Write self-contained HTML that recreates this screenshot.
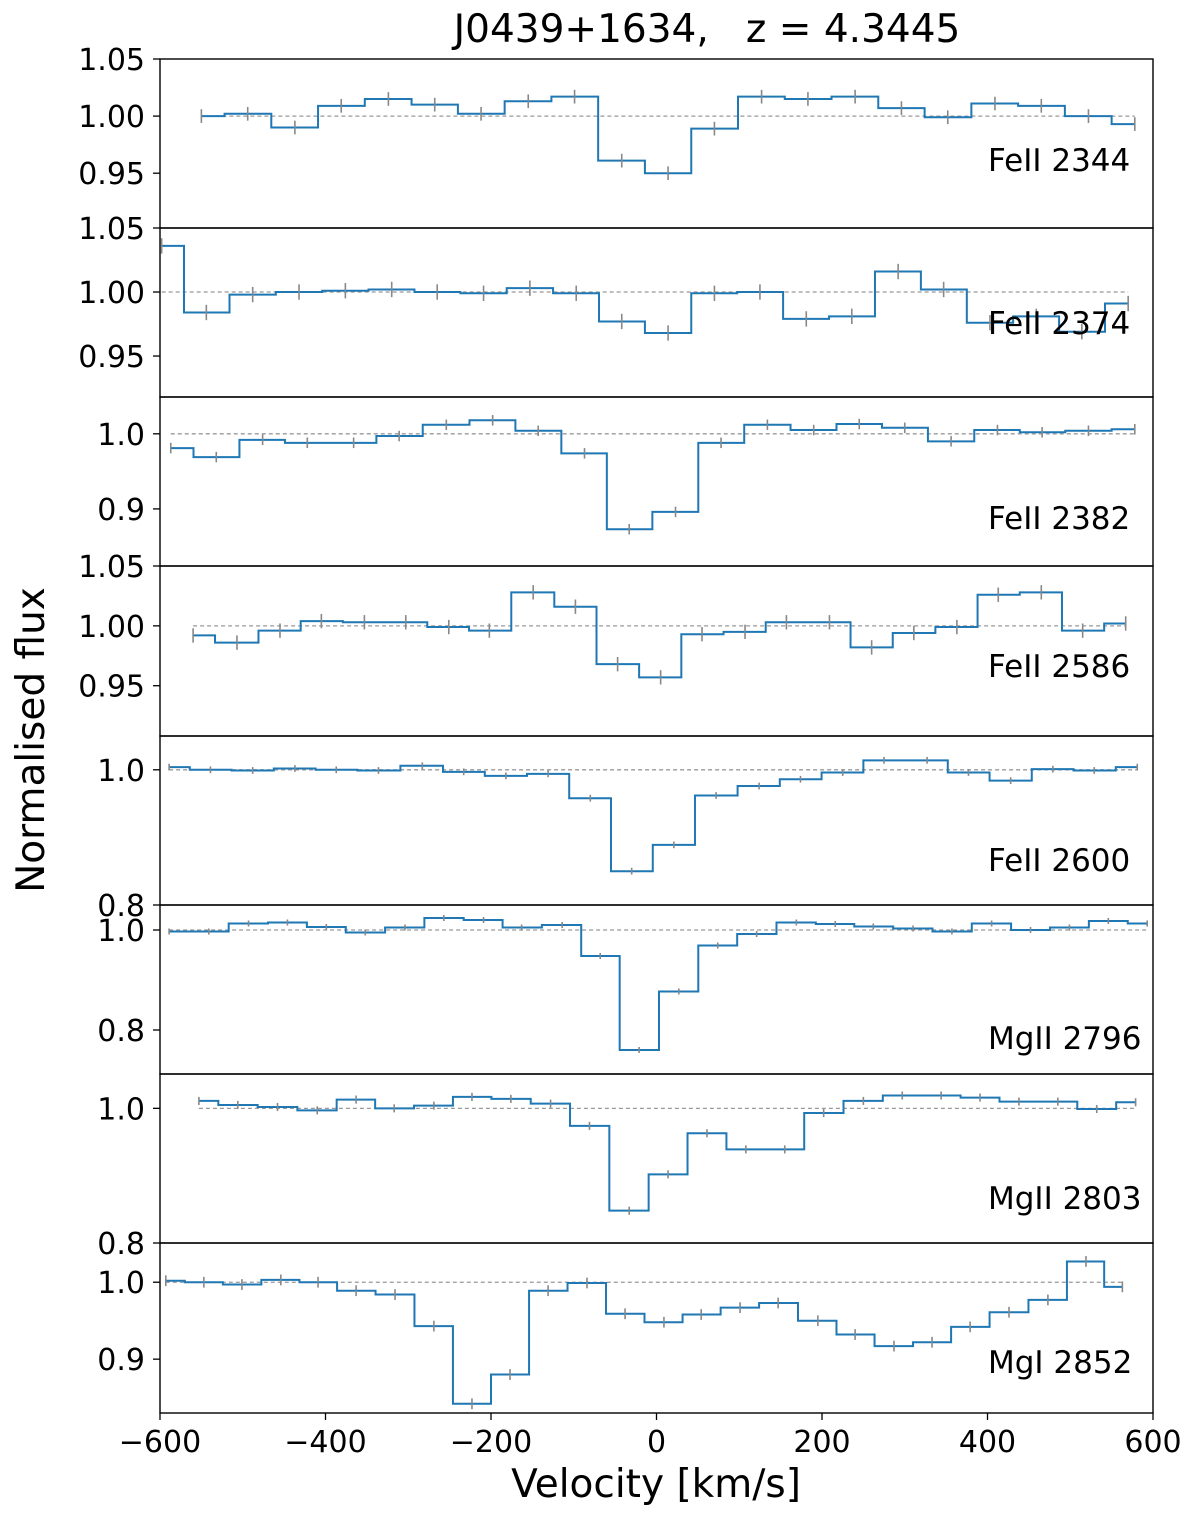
<!DOCTYPE html>
<html><head><meta charset="utf-8"><style>
html,body{margin:0;padding:0;background:#fff;}
svg text{font-family:"DejaVu Sans","Liberation Sans",sans-serif;}
</style></head><body>
<svg id="chart" width="1200" height="1511" viewBox="0 0 1200 1511" xmlns="http://www.w3.org/2000/svg">
<text x="707" y="42" font-size="39" text-anchor="middle" xml:space="preserve">J0439+1634,   z = 4.3445</text>
<text transform="translate(44,740) rotate(-90)" font-size="39" text-anchor="middle">Normalised flux</text>
<text x="656" y="1497" font-size="39" text-anchor="middle">Velocity [km/s]</text>
<g id="panels"></g>
</svg>
<script>
const lineNames = ["FeII 2344","FeII 2374","FeII 2382","FeII 2586","FeII 2600","MgII 2796","MgII 2803","MgI 2852"];
const vel1 = [-550,-494,-437,-381,-324,-268,-212,-155,-99,-42,14,70,127,183,240,296,352,409,465,522,578];
const flux1 = [1.000,1.002,0.990,1.009,1.015,1.010,1.002,1.013,1.017,0.961,0.950,0.989,1.017,1.015,1.017,1.007,0.999,1.011,1.009,1.000,0.993];
const vel2 = [-598,-544,-488,-432,-376,-320,-265,-209,-153,-97,-42,14,70,125,181,236,292,347,403,459,514,570];
const flux2 = [1.036,0.984,0.998,1.000,1.001,1.002,1.000,0.999,1.003,0.999,0.977,0.968,0.999,1.000,0.979,0.981,1.016,1.002,0.976,0.981,0.969,0.991];
const vel3 = [-587,-532,-476,-422,-366,-311,-254,-198,-143,-87,-33,23,78,134,190,245,300,356,412,466,522,578];
const flux3 = [0.981,0.969,0.992,0.988,0.988,0.997,1.012,1.018,1.004,0.974,0.873,0.896,0.988,1.012,1.005,1.013,1.008,0.990,1.005,1.002,1.004,1.006];
const vel4 = [-560,-507,-455,-405,-353,-303,-251,-202,-149,-98,-47,5,55,107,157,209,260,311,363,413,465,515,567];
const flux4 = [0.992,0.986,0.996,1.004,1.003,1.003,0.999,0.996,1.028,1.016,0.968,0.957,0.993,0.995,1.003,1.003,0.982,0.994,0.999,1.026,1.028,0.996,1.002];
const vel5 = [-589,-539,-488,-437,-387,-336,-283,-233,-182,-131,-80,-30,21,72,124,174,225,275,327,377,428,479,529,581];
const flux5 = [1.004,1.000,0.999,1.002,1.000,0.999,1.006,0.997,0.991,0.994,0.958,0.850,0.889,0.962,0.976,0.986,0.996,1.014,1.014,0.996,0.984,1.001,0.999,1.004];
const vel6 = [-589,-541,-493,-446,-399,-352,-304,-257,-209,-163,-114,-68,-21,27,74,121,169,216,262,310,357,405,452,499,546,593];
const flux6 = [0.997,0.997,1.013,1.015,1.006,0.995,1.005,1.024,1.020,1.005,1.010,0.948,0.760,0.877,0.969,0.992,1.015,1.012,1.007,1.003,0.997,1.013,1.000,1.005,1.018,1.013];
const vel7 = [-553,-506,-458,-410,-363,-317,-269,-223,-176,-128,-81,-33,14,61,108,155,202,250,297,344,391,438,485,532,579];
const flux7 = [1.011,1.005,1.002,0.997,1.013,1.000,1.004,1.017,1.014,1.007,0.974,0.848,0.902,0.963,0.939,0.939,0.993,1.011,1.019,1.019,1.016,1.010,1.010,0.999,1.009];
const vel8 = [-593,-547,-501,-454,-409,-363,-316,-269,-223,-177,-131,-84,-38,9,54,101,147,195,240,287,333,379,426,473,519,563];
const flux8 = [1.002,1.000,0.997,1.003,1.000,0.989,0.984,0.943,0.842,0.880,0.989,0.999,0.959,0.948,0.958,0.967,0.973,0.950,0.932,0.917,0.922,0.942,0.961,0.977,1.027,0.994];
const fluxErr = [0.006,0.006,0.007,0.006,0.005,0.006,0.006,0.007];
const yMin = [0.902,0.918,0.824,0.908,0.80,0.712,0.80,0.83];
const yMax = [1.05,1.05,1.049,1.05,1.05,1.05,1.051,1.051];
const yTicks = [[0.95,1.00,1.05],[0.95,1.00,1.05],[0.9,1.0],[0.95,1.00,1.05],[0.8,1.0],[0.8,1.0],[0.8,1.0],[0.9,1.0]];
const yTickLabels = [["0.95","1.00","1.05"],["0.95","1.00","1.05"],["0.9","1.0"],["0.95","1.00","1.05"],["0.8","1.0"],["0.8","1.0"],["0.8","1.0"],["0.9","1.0"]];
const xTicks = [-600,-400,-200,0,200,400,600];
const xTickLabels = ["\u2212600","\u2212400","\u2212200","0","200","400","600"];
const vels = [vel1,vel2,vel3,vel4,vel5,vel6,vel7,vel8];
const fluxes = [flux1,flux2,flux3,flux4,flux5,flux6,flux7,flux8];

const NS = "http://www.w3.org/2000/svg";
const X0 = 160, X1 = 1153, V0 = -600, V1 = 600;
const tops = [59,228,397,566,736,905,1074,1243,1413];
const labelY = [171,334,529,677,871,1049,1209,1373];
const xScale = v => X0 + (v - V0) / (V1 - V0) * (X1 - X0);
const root = document.getElementById('panels');
function mk(tag, attrs, parent){ const e=document.createElementNS(NS,tag); for(const k in attrs) e.setAttribute(k,attrs[k]); (parent||root).appendChild(e); return e; }

const defs = mk('defs',{});
for(let p=0;p<8;p++){
  const top=tops[p], bot=tops[p+1];
  const yScale = f => bot - (f - yMin[p])/(yMax[p]-yMin[p])*(bot-top);
  const cp = mk('clipPath',{id:'clip'+p},defs);
  mk('rect',{x:X0,y:top,width:X1-X0,height:bot-top},cp);
  const g = mk('g',{});
  
  
  const v=vels[p], f=fluxes[p];
  const inner = mk('g',{'clip-path':'url(#clip'+p+')'},g);
  const cont = mk('line',{x1:xScale(v[0]),x2:xScale(v[v.length-1]),y1:yScale(1),y2:yScale(1),stroke:'#999','stroke-width':1.3,'stroke-dasharray':'4,3'},inner);
  
  
  let d = 'M'+xScale(v[0])+','+yScale(f[0]);
  for(let i=0;i<v.length-1;i++){
    const xm = xScale((v[i]+v[i+1])/2);
    d += ' H'+xm+' V'+yScale(f[i+1]);
  }
  d += ' H'+xScale(v[v.length-1]);
  const step = mk('path',{d:d,fill:'none',stroke:'#1f77b4','stroke-width':2},inner);
  
  
  for(let i=0;i<v.length;i++){
    const eb = mk('line',{x1:xScale(v[i]),x2:xScale(v[i]),y1:yScale(f[i]+fluxErr[p]),y2:yScale(f[i]-fluxErr[p]),stroke:'#888','stroke-width':1.6},inner);
    
    
  }
  const fr = mk('rect',{x:X0,y:top,width:X1-X0,height:bot-top,fill:'none',stroke:'#000','stroke-width':1.4},g);
  
  
  for(let t=0;t<yTicks[p].length;t++){
    const y=yScale(yTicks[p][t]);
    mk('line',{x1:X0-7,x2:X0,y1:y,y2:y,stroke:'#000','stroke-width':1.3},g);
    const tl = mk('text',{x:X0-15,y:y+11,'font-size':30,'text-anchor':'end'},g);
    tl.textContent = yTickLabels[p][t];
    
    
  }
  const lab = mk('text',{x:988,y:labelY[p],'font-size':31},g);
  lab.textContent = lineNames[p];
  
  
}
for(let i=0;i<xTicks.length;i++){
  const x=xScale(xTicks[i]);
  mk('line',{x1:x,x2:x,y1:1413,y2:1420,stroke:'#000','stroke-width':1.3});
  const t = mk('text',{x:x,y:1452,'font-size':30,'text-anchor':'middle'});
  t.textContent = xTickLabels[i];
  
  
}
</script>
</body></html>
